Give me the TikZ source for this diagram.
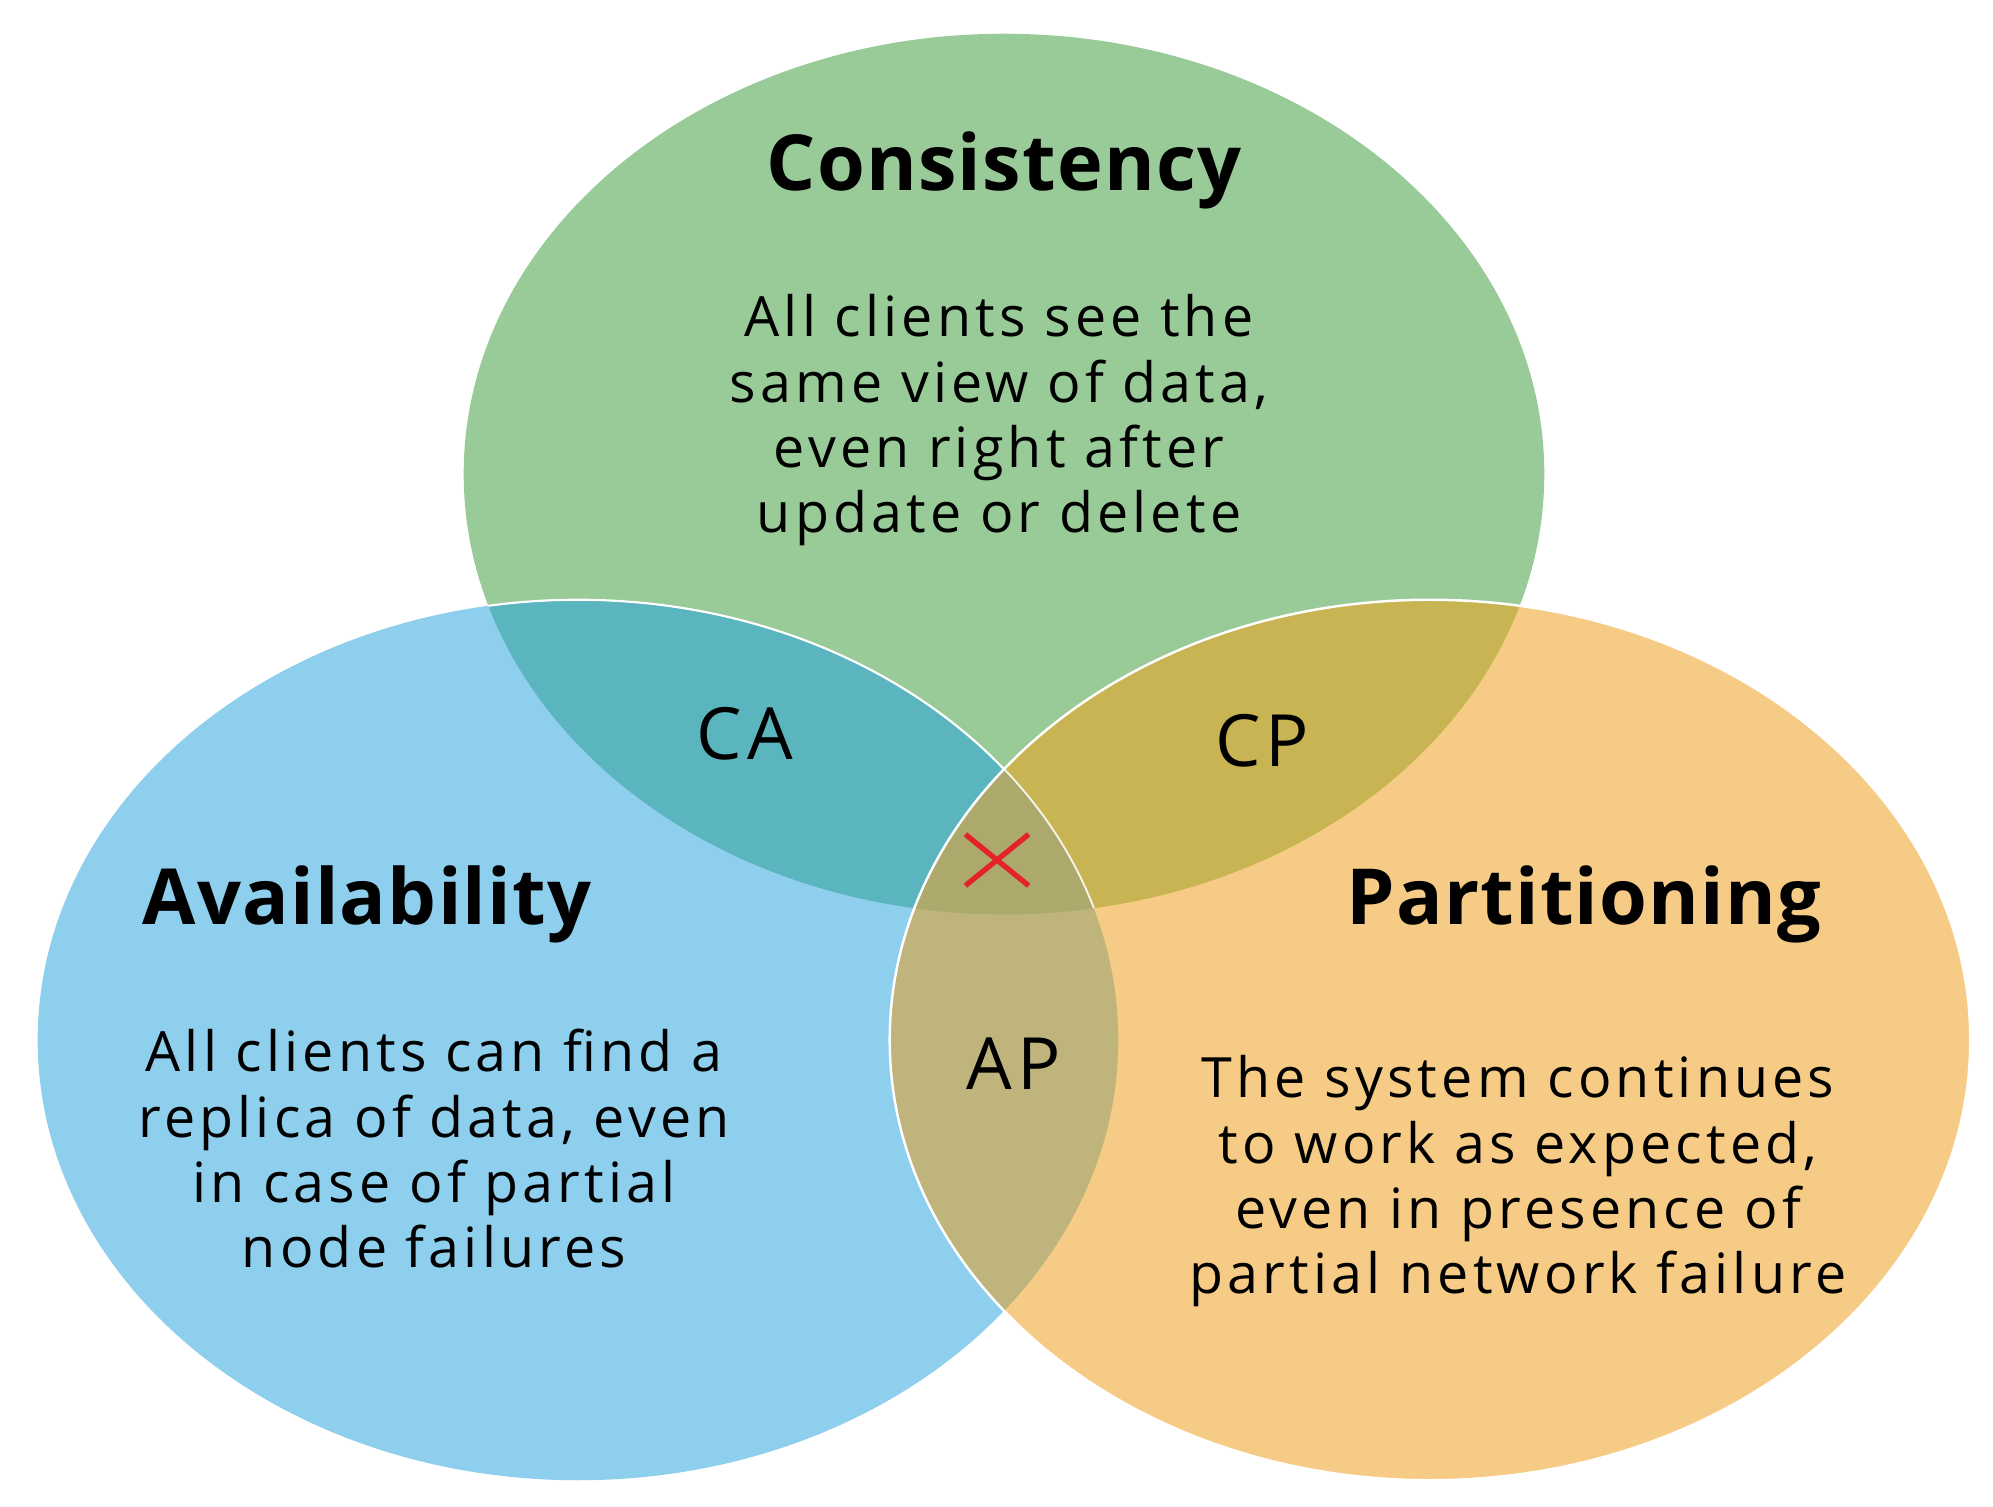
\documentclass[tikz,border=0pt]{standalone}
\usepackage{fontspec}
\setmainfont{Open Sans}
\usetikzlibrary{shapes.misc}
\definecolor{cgreen}{HTML}{99CB98}
\definecolor{cblue}{HTML}{8FCFEE}
\definecolor{corange}{HTML}{F6CB86}
\definecolor{cCA}{HTML}{5BB5BE}
\definecolor{cCP}{HTML}{C8B452}
\definecolor{cAP}{HTML}{BEB47C}
\definecolor{cmid}{HTML}{ADA86C}
\definecolor{xred}{HTML}{E42328}
\tikzset{
  title/.style={font=\bfseries\fontsize{22}{26}\selectfont\addfontfeature{LetterSpace=1.6}, inner sep=0pt},
  body/.style={font=\fontsize{15.8}{18.6}\selectfont\addfontfeature{LetterSpace=7.5}, align=center, inner sep=0pt},
  lab/.style={font=\fontsize{20.5}{24}\selectfont\addfontfeature{LetterSpace=7}, inner sep=0pt},
  ell/.style={x radius=5.4cm, y radius=4.4cm},
  edge/.style={draw=white, line width=0.7pt}
}
\begin{document}
\begin{tikzpicture}[x=0.01cm,y=-0.01cm]
\useasboundingbox[fill=white] (0,0) rectangle (1993,1507);
% base ellipses
\fill[cgreen] (1004,474) ellipse [ell];
\fill[cblue] (578,1040) ellipse [ell];
\fill[corange] (1430,1040) ellipse [ell];
% AP
\begin{scope}
  \clip (578,1040) ellipse [ell];
  \fill[cAP] (1430,1040) ellipse [ell];
\end{scope}
% CA, CP, centre
\begin{scope}
  \clip (1004,474) ellipse [ell];
  \fill[cCA] (578,1040) ellipse [ell];
  \fill[cCP] (1430,1040) ellipse [ell];
  \draw[edge, line width=0.6pt] (578,1040) ellipse [ell];
  \clip (578,1040) ellipse [ell];
  \fill[cmid] (1430,1040) ellipse [ell];
  \draw[edge, line width=0.4pt] (578,1040) ellipse [ell];
\end{scope}
\draw[edge] (1430,1040) ellipse [ell];
% texts
\node[title, anchor=base] (ctitle) at (1004,191) {Consistency};
\node[body, anchor=base] (cbody) at (999,533) {All clients see the\\same view of data,\\even right after\\update or delete};
\node[title, anchor=base] (atitle) at (367,925) {Availability};
\node[body, anchor=base] (abody) at (434,1268) {All clients can find a\\replica of data, even\\in case of partial\\node failures};
\node[title, anchor=base] (ptitle) at (1584,925) {Partitioning};
\node[body, anchor=base] (pbody) at (1518,1294) {The system continues\\to work as expected,\\even in presence of\\partial network failure};
\node[lab, anchor=base] (ca) at (745,760) {CA};
\node[lab, anchor=base] (cp) at (1262,767) {CP};
\node[lab, anchor=base] (ap) at (1014,1090) {AP};
\node[cross out, draw=xred, line width=1.5pt, minimum width=0.58cm, minimum height=0.46cm, inner sep=0pt] (x) at (997,860) {};
\end{tikzpicture}
\end{document}
